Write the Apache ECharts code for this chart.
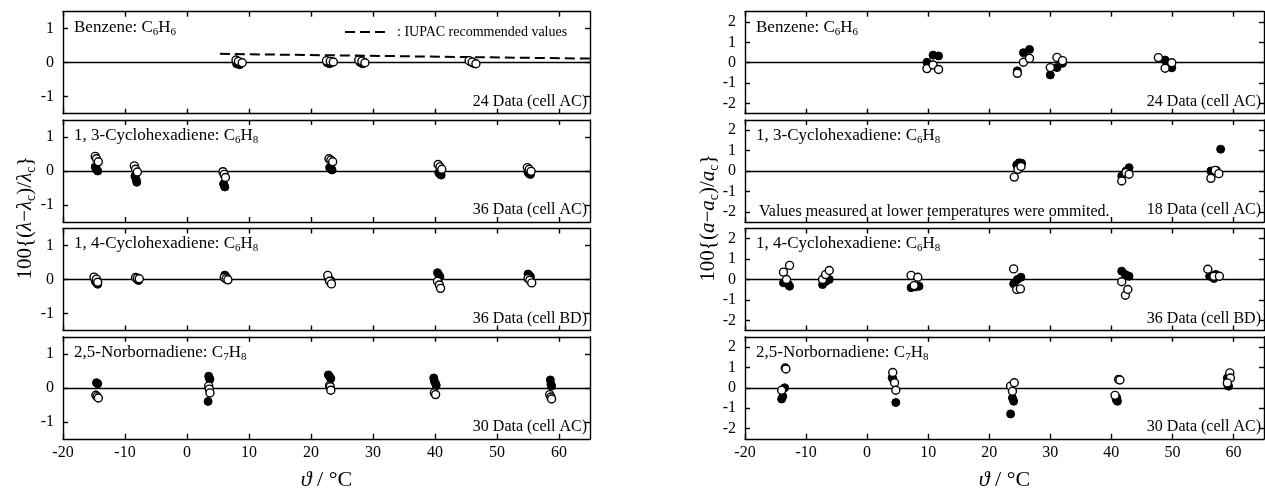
<!DOCTYPE html>
<html>
<head>
<meta charset="utf-8">
<script src="https://cdn.jsdelivr.net/npm/echarts@6/dist/echarts.min.js"></script>
<style>
  html, body { margin: 0; padding: 0; background: #fff; }
  #chart { width: 1265px; height: 495px; }
</style>
</head>
<body>
<div id="chart"></div>
<script>
// tick labels
const xTicks = [-20, -10, 0, 10, 20, 30, 40, 50, 60];
const lamTicks = [-1, 0, 1];
const aTicks = [-2, -1, 0, 1, 2];

// panel texts
const panelNames = ['Benzene', '1, 3-Cyclohexadiene', '1, 4-Cyclohexadiene', '2,5-Norbornadiene'];
const formulaC = ['6', '6', '6', '7'];
const formulaH = ['6', '8', '8', '8'];
const lamNotes = ['24 Data (cell AC)', '36 Data (cell AC)', '36 Data (cell BD)', '30 Data (cell AC)'];
const aNotes = ['24 Data (cell AC)', '18 Data (cell AC)', '36 Data (cell BD)', '30 Data (cell AC)'];

// IUPAC recommended values (benzene, lambda)
const iupacLine = [[5.3, 0.26], [35, 0.19], [65, 0.12]];

// 100{(lambda - lambda_c)/lambda_c}, [t / degC, deviation]
const benzeneLamFilled = [[8.0, -0.03], [8.5, -0.06], [8.8, -0.01], [22.6, 0.0], [23.0, -0.03], [23.4, 0.01],
  [27.9, 0.01], [28.3, -0.03], [28.6, 0.0], [45.8, 0.02], [46.1, -0.01], [46.4, -0.03]];
const benzeneLamOpen = [[7.9, 0.08], [8.3, 0.04], [8.9, 0.0], [22.5, 0.06], [23.1, 0.04], [23.6, 0.02],
  [27.7, 0.08], [28.2, 0.05], [28.7, 0.0], [45.5, 0.06], [46.0, 0.02], [46.6, -0.03]];

const chd13LamFilled = [[-14.8, 0.12], [-14.6, 0.05], [-14.4, 0.0], [-8.4, -0.15], [-8.2, -0.25], [-8.1, -0.33],
  [5.9, -0.38], [6.0, -0.43], [6.1, -0.47], [23.0, 0.1], [23.2, 0.06], [23.4, 0.03],
  [40.6, -0.05], [40.8, -0.09], [41.0, -0.12], [55.0, -0.04], [55.2, -0.08], [55.4, -0.1]];
const chd13LamOpen = [[-14.8, 0.43], [-14.6, 0.36], [-14.3, 0.27], [-8.5, 0.15], [-8.3, 0.05], [-8.0, -0.03],
  [5.8, -0.02], [6.0, -0.1], [6.2, -0.19], [22.9, 0.36], [23.2, 0.32], [23.5, 0.27],
  [40.5, 0.19], [40.8, 0.12], [41.1, 0.05], [54.9, 0.1], [55.2, 0.05], [55.5, -0.01]];

const chd14LamFilled = [[-14.8, -0.05], [-14.6, -0.1], [-14.4, -0.14], [-8.2, 0.03], [-8.0, 0.0], [-7.8, -0.03],
  [6.1, 0.13], [6.3, 0.08], [6.5, 0.03], [22.8, 0.03], [23.0, 0.0], [23.2, -0.03],
  [40.4, 0.2], [40.6, 0.14], [40.8, 0.08], [55.0, 0.16], [55.2, 0.12], [55.4, 0.08]];
const chd14LamOpen = [[-15.0, 0.07], [-14.6, 0.01], [-14.4, -0.08], [-8.3, 0.06], [-8.0, 0.04], [-7.7, 0.02],
  [6.0, 0.06], [6.3, 0.02], [6.6, -0.01], [22.7, 0.12], [23.0, -0.05], [23.3, -0.13],
  [40.4, -0.05], [40.7, -0.16], [40.9, -0.26], [55.0, 0.03], [55.3, -0.02], [55.6, -0.1]];

const nbdLamFilled = [[-14.6, 0.15], [-14.4, 0.12], [3.5, 0.34], [3.6, 0.28], [3.7, 0.25], [3.4, -0.4],
  [22.8, 0.38], [23.0, 0.33], [23.2, 0.27], [39.8, 0.29], [39.9, 0.2], [40.1, 0.12], [40.2, 0.07],
  [58.6, 0.23], [58.7, 0.1], [58.8, 0.05]];
const nbdLamOpen = [[-14.7, -0.22], [-14.5, -0.26], [-14.3, -0.3], [3.5, 0.05], [3.6, -0.04], [3.7, -0.15],
  [23.0, 0.07], [23.1, 0.03], [23.2, -0.07], [39.9, -0.15], [40.1, -0.2],
  [58.5, -0.2], [58.7, -0.27], [58.8, -0.33]];

// 100{(a - a_c)/a_c}, [t / degC, deviation]
const benzeneAFilled = [[9.8, 0.02], [10.8, 0.37], [11.7, 0.33], [24.6, -0.4], [25.6, 0.49], [26.6, 0.65],
  [30.0, -0.6], [31.1, -0.24], [32.0, -0.03], [48.8, 0.13], [49.6, -0.03], [49.9, -0.25]];
const benzeneAOpen = [[9.8, -0.29], [10.8, -0.11], [11.7, -0.33], [24.6, -0.52], [25.6, 0.02], [26.6, 0.21],
  [30.0, -0.24], [31.1, 0.26], [32.0, 0.1], [47.7, 0.25], [48.8, -0.27], [49.9, 0.0]];

const chd13AFilled = [[24.5, 0.3], [24.9, 0.4], [25.3, 0.38], [41.7, -0.25], [42.4, 0.0], [42.9, 0.16],
  [56.3, 0.0], [57.2, 0.03], [57.9, 1.07]];
const chd13AOpen = [[24.1, -0.3], [24.7, 0.08], [25.2, 0.22], [41.7, -0.49], [42.4, -0.08], [42.9, -0.16],
  [56.3, -0.36], [57.0, 0.03], [57.6, -0.13]];

const chd14AFilled = [[-13.7, -0.16], [-12.9, -0.24], [-12.7, -0.33], [-7.3, -0.25], [-6.8, -0.1], [-6.2, 0.0],
  [7.2, -0.4], [7.9, -0.36], [8.5, -0.33], [24.0, -0.21], [24.6, 0.0], [25.2, 0.11],
  [41.7, 0.41], [42.3, 0.24], [42.9, 0.16], [56.1, 0.16], [56.8, 0.05], [57.1, 0.25]];
const chd14AOpen = [[-13.7, 0.36], [-12.7, 0.69], [-13.2, 0.0], [-7.3, 0.0], [-6.8, 0.24], [-6.2, 0.44],
  [7.2, 0.2], [8.3, 0.11], [7.7, -0.3], [24.0, 0.52], [24.5, -0.49], [25.1, -0.46],
  [41.7, -0.11], [42.3, -0.77], [42.7, -0.49], [55.8, 0.5], [56.8, 0.16], [57.7, 0.16]];

const nbdAFilled = [[-13.5, 0.0], [-14.0, -0.55], [-13.8, -0.42], [4.1, 0.5], [4.2, 0.45], [4.7, -0.72],
  [23.5, -1.28], [23.8, -0.5], [24.0, -0.66], [40.8, -0.58], [41.0, -0.66], [40.9, -0.5],
  [59.0, 0.48], [59.0, 0.19], [59.2, 0.08]];
const nbdAOpen = [[-13.4, 0.97], [-13.3, 0.92], [-14.0, -0.12], [4.2, 0.75], [4.5, 0.25], [4.7, -0.12],
  [23.5, 0.08], [23.8, -0.17], [24.1, 0.25], [41.2, 0.41], [41.4, 0.38], [40.6, -0.37],
  [59.4, 0.73], [59.5, 0.48], [59.0, 0.24]];

const font = '"Liberation Serif", "DejaVu Serif", serif';
const tops = [11.7, 120, 228.5, 336.8];
const panelH = 102;

const cols = [
  { left: 63, width: 527, min: -1.5, max: 1.5, ticks: lamTicks, notes: lamNotes,
    filled: [benzeneLamFilled, chd13LamFilled, chd14LamFilled, nbdLamFilled],
    open: [benzeneLamOpen, chd13LamOpen, chd14LamOpen, nbdLamOpen] },
  { left: 745, width: 519, min: -2.5, max: 2.5, ticks: aTicks, notes: aNotes,
    filled: [benzeneAFilled, chd13AFilled, chd14AFilled, nbdAFilled],
    open: [benzeneAOpen, chd13AOpen, chd14AOpen, nbdAOpen] }
];

const grid = [], xAxis = [], yAxis = [], series = [], graphic = [];
const line = { color: '#000', width: 1.4 };
const subRich = {
  m: { fontSize: 17, fontFamily: font, color: '#000', lineHeight: 20 },
  s: { fontSize: 11, fontFamily: font, color: '#000', lineHeight: 10, verticalAlign: 'bottom' }
};

cols.forEach((c, ci) => {
  for (let r = 0; r < 4; r++) {
    const g = grid.length;
    grid.push({ left: c.left, top: tops[r], width: c.width, height: panelH });
    const last = r === 3;
    xAxis.push({
      gridIndex: g, type: 'value', min: -20, max: 65, position: 'bottom',
      axisLine: { show: true, onZero: false, lineStyle: line },
      axisTick: { show: true, inside: true, length: 5, customValues: xTicks, lineStyle: line },
      axisLabel: { show: last, customValues: xTicks, color: '#000', fontFamily: font, fontSize: 16, margin: 6 },
      splitLine: { show: false },
      name: last ? '{i|ϑ} / °C' : '', nameLocation: 'middle', nameGap: 30,
      nameTextStyle: { color: '#000', fontFamily: font, fontSize: 22,
        rich: { i: { fontStyle: 'italic', fontFamily: font, fontSize: 22, color: '#000' } } }
    });
    xAxis.push({
      gridIndex: g, type: 'value', min: -20, max: 65, position: 'top',
      axisLine: { show: true, onZero: false, lineStyle: line },
      axisTick: { show: true, inside: true, length: 5, customValues: xTicks, lineStyle: line },
      axisLabel: { show: false }, splitLine: { show: false }
    });
    yAxis.push({
      gridIndex: g, type: 'value', min: c.min, max: c.max, position: 'left',
      axisLine: { show: true, onZero: false, lineStyle: line },
      axisTick: { show: true, inside: true, length: 5, customValues: c.ticks, lineStyle: line },
      axisLabel: { customValues: c.ticks, color: '#000', fontFamily: font, fontSize: 16, margin: 9 },
      splitLine: { show: false }
    });
    yAxis.push({
      gridIndex: g, type: 'value', min: c.min, max: c.max, position: 'right',
      axisLine: { show: true, onZero: false, lineStyle: line },
      axisTick: { show: true, inside: true, length: 5, customValues: c.ticks, lineStyle: line },
      axisLabel: { show: false }, splitLine: { show: false }
    });
    const xi = 2 * g, yi = 2 * g;
    series.push({
      type: 'line', xAxisIndex: xi, yAxisIndex: yi, data: [], silent: true,
      markLine: { silent: true, z: 1, symbol: 'none', label: { show: false },
        lineStyle: { color: '#000', width: 1.4, type: 'solid' }, data: [{ yAxis: 0 }] }
    });
    if (ci === 0 && r === 0) {
      series.push({
        name: 'IUPAC recommended values', type: 'line', xAxisIndex: xi, yAxisIndex: yi,
        data: iupacLine, symbol: 'none', z: 3, color: '#000',
        lineStyle: { color: '#000', width: 2, type: [10, 5] }
      });
    }
    series.push({
      type: 'scatter', xAxisIndex: xi, yAxisIndex: yi, data: c.filled[r], symbolSize: 8, z: 4,
      itemStyle: { color: '#000', borderColor: '#000', borderWidth: 1, opacity: 1 }
    });
    series.push({
      type: 'scatter', xAxisIndex: xi, yAxisIndex: yi, data: c.open[r], symbolSize: 8, z: 5,
      itemStyle: { color: '#fff', borderColor: '#000', borderWidth: 1.4, opacity: 1 }
    });
    graphic.push({
      type: 'text', left: c.left + 11, top: tops[r] + 7, z: 10,
      style: { text: '{m|' + panelNames[r] + ': C}{s|' + formulaC[r] + '}{m|H}{s|' + formulaH[r] + '}', rich: subRich }
    });
    graphic.push({
      type: 'text', x: c.left + c.width - 3, y: tops[r] + 90, z: 10,
      style: { text: c.notes[r], font: '16px ' + font, fill: '#000', align: 'right', verticalAlign: 'middle' }
    });
  }
});

graphic.push({
  type: 'text', x: 759, y: tops[1] + 92, z: 10,
  style: { text: 'Values measured at lower temperatures were ommited.', font: '16px ' + font, fill: '#000',
    align: 'left', verticalAlign: 'middle' }
});

// legend of the IUPAC dashed line
graphic.push({
  type: 'line', z: 10, shape: { x1: 345, y1: 32, x2: 385, y2: 32 },
  style: { stroke: '#000', lineWidth: 2, lineDash: [10, 5] }
});
graphic.push({
  type: 'text', x: 397, y: 32, z: 10,
  style: { text: ': IUPAC recommended values', font: '14px ' + font, fill: '#000', align: 'left', verticalAlign: 'middle' }
});

const nameRich = {
  i: { fontStyle: 'italic', fontSize: 21, fontFamily: font, color: '#000', lineHeight: 26 },
  s: { fontSize: 14, fontFamily: font, color: '#000', lineHeight: 12, verticalAlign: 'bottom' }
};
graphic.push({
  type: 'text', x: 25, y: 218, rotation: Math.PI / 2, z: 10,
  style: { text: '100{({i|λ}−{i|λ}{s|c})/{i|λ}{s|c}}', font: '21px ' + font, fill: '#000', lineHeight: 26,
    align: 'center', verticalAlign: 'middle', rich: nameRich }
});
graphic.push({
  type: 'text', x: 708, y: 218, rotation: Math.PI / 2, z: 10,
  style: { text: '100{({i|a}−{i|a}{s|c})/{i|a}{s|c}}', font: '21px ' + font, fill: '#000', lineHeight: 26,
    align: 'center', verticalAlign: 'middle', rich: nameRich }
});

const chart = echarts.init(document.getElementById('chart'));
chart.setOption({
  animation: false,
  backgroundColor: '#fff',
  grid, xAxis, yAxis, series, graphic
});
</script>
</body>
</html>
